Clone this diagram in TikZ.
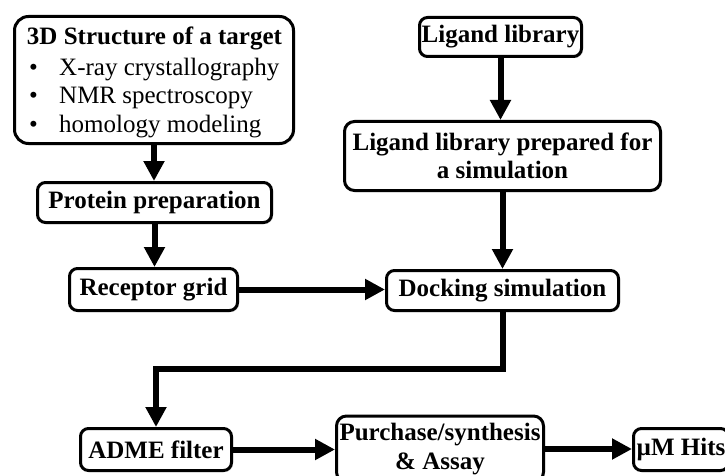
\documentclass[tikz,border=0pt]{standalone}
\usepackage{fontspec}
\setmainfont{Liberation Serif}
\usetikzlibrary{arrows.meta,shadows}
\begin{document}
\begin{tikzpicture}[x=1pt,y=-1pt,
  box/.style={draw,line width=3pt,rounded corners=8pt,fill=white,align=center,inner sep=2pt,
     font=\fontsize{25}{28.5}\selectfont\bfseries,
     drop shadow={opacity=0.25,shadow xshift=1.5pt,shadow yshift=-1.5pt}},
  flow/.style={line width=6pt,-{Triangle[length=20pt,width=20pt]}},
  txt/.style={inner sep=0pt,font=\fontsize{25}{29}\selectfont}]
\clip (0,0) rectangle (725,476);
\fill[white] (0,0) rectangle (725,476);
% boxes
\node[box,minimum width=279pt,minimum height=127pt,rounded corners=14pt] (s3d) at (154,80) {};
\node[txt,anchor=base,font=\fontsize{25}{29}\selectfont\bfseries] (t0) at (154.5,45) {3D Structure of a target};
\node[txt,anchor=base west] (b1) at (29,76) {•};
\node[txt,anchor=base west] (t1) at (59,76) {X-ray crystallography};
\node[txt,anchor=base west] (b2) at (29,104) {•};
\node[txt,anchor=base west] (t2) at (59,104) {NMR spectroscopy};
\node[txt,anchor=base west] (b3) at (29,132) {•};
\node[txt,anchor=base west] (t3) at (59,132) {homology modeling};
\node[box,minimum width=162pt,minimum height=39pt] (lig) at (500.5,37) {Ligand library};
\node[box,minimum width=316pt,minimum height=69pt,rounded corners=10pt] (ligp) at (502.5,156) {Ligand library prepared for\\a simulation};
\node[box,minimum width=234pt,minimum height=40pt] (prot) at (154.5,202.5) {Protein preparation};
\node[box,minimum width=168pt,minimum height=42pt] (rec) at (153.5,289.5) {Receptor grid};
\node[box,minimum width=232pt,minimum height=40pt] (dock) at (502.5,290.5) {Docking simulation};
\node[box,minimum width=151pt,minimum height=42pt] (adme) at (156,449.5) {ADME filter};
\node[box,minimum width=207pt,minimum height=66pt,inner sep=1pt,rounded corners=10pt] (purch) at (440,449) {Purchase/synthesis\\\& Assay};
\node[box,minimum width=95pt,minimum height=42pt,inner xsep=1pt] (hits) at (681,449.5) {µM Hits};
% connectors
\coordinate (c1) at (502.5,369);
\coordinate (c2) at (156,369);
\draw[flow] (s3d.south) -- (s3d.south |- prot.north);
\draw[flow] (prot.south) -- (prot.south |- rec.north);
\draw[flow] (lig.south) -- (lig.south |- ligp.north);
\draw[flow] (ligp.south) -- (ligp.south |- dock.north);
\draw[flow] (rec.east) -- (rec.east -| dock.west);
\draw[flow] (dock.south) -- (c1) -- (c2) -- (adme.north);
\draw[flow] (adme.east) -- (adme.east -| purch.west);
\draw[flow] (purch.east) -- (purch.east -| hits.west);
\end{tikzpicture}
\end{document}
